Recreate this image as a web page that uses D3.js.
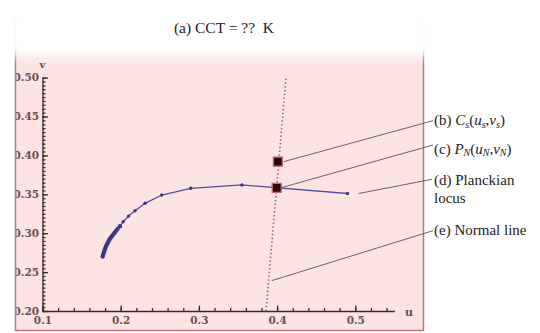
<!DOCTYPE html>
<html>
<head>
<meta charset="utf-8">
<script src="https://cdn.jsdelivr.net/npm/d3@7"></script>
<style>
  body { margin: 0; background: #fff; }
  svg { display: block; }
</style>
</head>
<body>
<div class="chart"></div>
<script>
// Planckian locus in the (u,v) plane
var locusU = [0.1770, 0.1776, 0.1783, 0.1791, 0.1800, 0.1810, 0.1821, 0.1833, 0.1846, 0.1860,
              0.1875, 0.1890, 0.1906, 0.1922, 0.1940, 0.1960, 0.1990, 0.2032, 0.2100, 0.2183,
              0.2311, 0.2524, 0.2895, 0.3550, 0.4900];
var locusV = [0.2700, 0.2725, 0.2750, 0.2775, 0.2800, 0.2825, 0.2850, 0.2875, 0.2900, 0.2925,
              0.2945, 0.2965, 0.2985, 0.3005, 0.3030, 0.3055, 0.3090, 0.3148, 0.3220, 0.3289,
              0.3384, 0.3491, 0.3577, 0.3620, 0.3510];
// normal line (dotted) end points
var normalU = [0.3858, 0.4114];
var normalV = [0.2000, 0.5000];
// sample point Cs and its foot PN on the locus
var csPoint = [0.4010, 0.3920];
var pnPoint = [0.3995, 0.3583];

var xMajor = [0.1, 0.2, 0.3, 0.4, 0.5];
var xMinor = d3.range(0, 23).map(function(i) { return 0.1 + i * 0.02; });
var yMajor = [0.20, 0.25, 0.30, 0.35, 0.40, 0.45, 0.50];
var yMinor = d3.range(0, 61).map(function(i) { return 0.2 + i * 0.005; });

var svgWidth = 540, svgHeight = 333;
var svg = d3.select(".chart").append("svg")
  .attr("width", svgWidth)
  .attr("height", svgHeight);

var defs = svg.append("defs");
defs.append("filter").attr("id", "soft")
  .attr("x", "-10%").attr("y", "-50%").attr("width", "120%").attr("height", "200%")
  .append("feGaussianBlur").attr("stdDeviation", 5);
defs.append("clipPath").attr("id", "panel")
  .append("rect").attr("x", 16).attr("y", 0).attr("width", 420).attr("height", 333);

// pink panel
svg.append("rect")
  .attr("x", 15.5).attr("y", 20.5)
  .attr("width", 408).attr("height", 310)
  .attr("fill", "#fce4e4")
  .attr("stroke", "#b57d7d")
  .attr("stroke-width", 1.5);

// whitened band behind the title
svg.append("rect")
  .attr("x", 8).attr("y", 12)
  .attr("width", 424).attr("height", 44)
  .attr("fill", "#ffffff")
  .attr("filter", "url(#soft)");
svg.append("rect")
  .attr("x", 24).attr("y", 16)
  .attr("width", 392).attr("height", 32)
  .attr("fill", "#ffffff");

svg.append("text")
  .attr("x", 224).attr("y", 33)
  .attr("text-anchor", "middle")
  .attr("font-family", "Liberation Serif, serif")
  .attr("font-size", "15.5px")
  .attr("fill", "#222")
  .style("white-space", "pre")
  .text("(a) CCT = ??  K");

var x = d3.scaleLinear().domain([0.1, 0.55]).range([42.5, 394.4]);
var y = d3.scaleLinear().domain([0.2, 0.5]).range([311, 77.6]);

var axisColor = "#3b2b2b";
var labelColor = "#6b5050";

function styleAxis(g) {
  g.selectAll("path, line").attr("stroke", axisColor).attr("stroke-width", 1.3);
  g.selectAll("text")
    .attr("fill", labelColor)
    .attr("font-family", "DejaVu Serif, serif")
    .attr("font-weight", "bold")
    .attr("font-size", "10.5px");
}

var plot = svg.append("g").attr("clip-path", "url(#panel)");

// x axis
plot.append("g")
  .attr("transform", "translate(0," + y(0.2) + ")")
  .call(d3.axisBottom(x).tickValues(xMinor).tickSize(-3).tickSizeOuter(0).tickFormat(""))
  .call(styleAxis);
plot.append("g")
  .attr("transform", "translate(0," + y(0.2) + ")")
  .call(d3.axisBottom(x).tickValues(xMajor).tickSize(-5.5).tickSizeOuter(0).tickPadding(6)
    .tickFormat(d3.format(".1f")))
  .call(styleAxis)
  .call(function(g) { g.select(".domain").remove(); });

// y axis
plot.append("g")
  .attr("transform", "translate(" + x(0.1) + ",0)")
  .call(d3.axisLeft(y).tickValues(yMinor).tickSize(-3).tickSizeOuter(0).tickFormat(""))
  .call(styleAxis);
plot.append("g")
  .attr("transform", "translate(" + x(0.1) + ",0)")
  .call(d3.axisLeft(y).tickValues(yMajor).tickSize(-5.5).tickSizeOuter(0).tickPadding(3.5)
    .tickFormat(d3.format(".2f")))
  .call(styleAxis)
  .call(function(g) { g.select(".domain").remove(); });

svg.append("text")
  .attr("x", 409).attr("y", 316)
  .attr("text-anchor", "middle")
  .attr("fill", labelColor)
  .attr("font-family", "DejaVu Serif, serif")
  .attr("font-weight", "bold")
  .attr("font-size", "11px")
  .text("u");
svg.append("text")
  .attr("x", x(0.1)).attr("y", 68)
  .attr("text-anchor", "middle")
  .attr("fill", labelColor)
  .attr("font-family", "DejaVu Serif, serif")
  .attr("font-weight", "bold")
  .attr("font-size", "10px")
  .text("v");

// normal line
var normalPts = normalU.map(function(u, i) { return [u, normalV[i]]; });
svg.append("path")
  .datum(normalPts)
  .attr("d", d3.line().x(function(d) { return x(d[0]); }).y(function(d) { return y(d[1]); }))
  .attr("fill", "none")
  .attr("stroke", "#8c6262")
  .attr("stroke-width", 1.6)
  .attr("stroke-dasharray", "1.4,2.4");

// locus
var locus = locusU.map(function(u, i) { return [u, locusV[i]]; });
svg.append("path")
  .datum(locus)
  .attr("d", d3.line().x(function(d) { return x(d[0]); }).y(function(d) { return y(d[1]); }))
  .attr("fill", "none")
  .attr("stroke", "#554c9e")
  .attr("stroke-width", 1.3);
svg.selectAll(".lp")
  .data(locus)
  .enter().append("circle")
  .attr("class", "lp")
  .attr("cx", function(d) { return x(d[0]); })
  .attr("cy", function(d) { return y(d[1]); })
  .attr("r", function(d, i) { return i < 17 ? 2.2 : 1.7; })
  .attr("fill", "#3f3686");

// Cs and PN squares
svg.selectAll(".sq")
  .data([csPoint, pnPoint])
  .enter().append("rect")
  .attr("class", "sq")
  .attr("x", function(d) { return x(d[0]) - 4.5; })
  .attr("y", function(d) { return y(d[1]) - 4.5; })
  .attr("width", 9).attr("height", 9)
  .attr("fill", "#2c0707")
  .attr("stroke", "#c06a6a")
  .attr("stroke-width", 1.3);

// leader lines and labels
var lx = 433;
var leaders = [
  { from: [x(csPoint[0]) + 6, y(csPoint[1])], to: [lx, 120.7] },
  { from: [x(pnPoint[0]) + 4, y(pnPoint[1])], to: [lx, 145] },
  { from: [x(locusU[locusU.length - 1]) + 11, y(locusV[locusV.length - 1])], to: [lx - 1, 179.3] },
  { from: [x(0.3893) + 3, y(0.239)], to: [lx, 230.7] }
];
svg.selectAll(".leader")
  .data(leaders)
  .enter().append("line")
  .attr("class", "leader")
  .attr("x1", function(d) { return d.from[0]; })
  .attr("y1", function(d) { return d.from[1]; })
  .attr("x2", function(d) { return d.to[0]; })
  .attr("y2", function(d) { return d.to[1]; })
  .attr("stroke", "#555")
  .attr("stroke-width", 0.9);

function label(yPos) {
  return svg.append("text")
    .attr("x", lx + 1).attr("y", yPos)
    .attr("font-family", "Liberation Serif, serif")
    .attr("font-size", "15px")
    .attr("fill", "#222");
}
function part(t, s, it, sub) {
  var ts = t.append("tspan").text(s);
  if (it) ts.attr("font-style", "italic");
  if (sub) ts.attr("font-size", "10px").attr("dy", sub);
  return ts;
}

var tb = label(125);
part(tb, "(b) ");
part(tb, "C", true);
part(tb, "s", true, 3);
part(tb, "(", false).attr("dy", -3);
part(tb, "u", true);
part(tb, "s", true, 3);
part(tb, ",", false).attr("dy", -3);
part(tb, "v", true);
part(tb, "s", true, 3);
part(tb, ")", false).attr("dy", -3);

var tc = label(154);
part(tc, "(c) ");
part(tc, "P", true);
part(tc, "N", true, 2);
part(tc, "(", false).attr("dy", -2);
part(tc, "u", true);
part(tc, "N", true, 2);
part(tc, ",", false).attr("dy", -2);
part(tc, "v", true);
part(tc, "N", true, 2);
part(tc, ")", false).attr("dy", -2);

label(185).text("(d) Planckian");
label(203).text("locus");
label(235).text("(e) Normal line");
</script>
</body>
</html>
